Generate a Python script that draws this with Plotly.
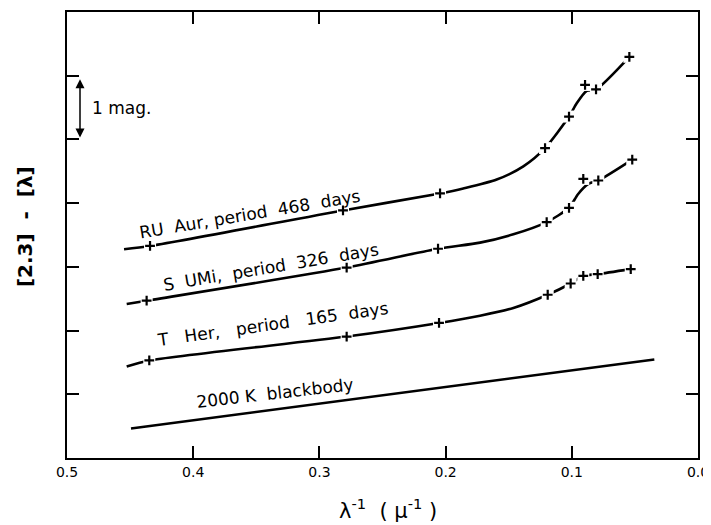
import plotly.graph_objects as go

# ---- data (x = 1/lambda in 1/micron, y = [2.3]-[lambda] with arbitrary offsets, mag) ----
ru_pts_x = [0.4342, 0.2813, 0.2044, 0.1212, 0.1022, 0.0895, 0.0808, 0.0544]
ru_pts_y = [3.328, 3.886, 4.152, 4.864, 5.359, 5.855, 5.786, 6.297]
ru_curve_x = [0.4548, 0.4342, 0.2813, 0.2044, 0.186, 0.1595, 0.1384, 0.1212, 0.1022, 0.0961, 0.0882, 0.0808, 0.0544]
ru_curve_y = [3.277, 3.328, 3.886, 4.152, 4.23, 4.37, 4.578, 4.864, 5.359, 5.567, 5.761, 5.786, 6.297]

sumi_pts_x = [0.4369, 0.2784, 0.2060, 0.1199, 0.1022, 0.0909, 0.0790, 0.0521]
sumi_pts_y = [2.469, 2.989, 3.284, 3.703, 3.927, 4.380, 4.355, 4.683]
sumi_curve_x = [0.4527, 0.4369, 0.2784, 0.2060, 0.1727, 0.1463, 0.1199, 0.1022, 0.0951, 0.0869, 0.0790, 0.0521]
sumi_curve_y = [2.417, 2.469, 2.989, 3.284, 3.380, 3.511, 3.703, 3.927, 4.14, 4.302, 4.355, 4.683]

ther_pts_x = [0.4348, 0.2784, 0.2052, 0.1191, 0.1009, 0.0909, 0.0795, 0.0533]
ther_pts_y = [1.531, 1.906, 2.120, 2.5625, 2.739, 2.859, 2.886, 2.964]
ther_curve_x = [0.4527, 0.4348, 0.2784, 0.2052, 0.1727, 0.1463, 0.1191, 0.1009, 0.0909, 0.0795, 0.0533]
ther_curve_y = [1.4375, 1.531, 1.906, 2.120, 2.234, 2.355, 2.5625, 2.739, 2.859, 2.886, 2.964]

bb_x = [0.4493, 0.0346]
bb_y = [0.464, 1.547]

x_tickvals = [0.5, 0.4, 0.3, 0.2, 0.1, 0.0]
x_ticktext = ["0.5", "0.4", "0.3", "0.2", "0.1", "0.0"]
y_tickvals = [1, 2, 3, 4, 5, 6]

labels = [
    ("RU  Aur, period  468  days", 0.3550, 3.83, -9.5),
    ("S  UMi,  period  326  days", 0.3384, 3.00, -9.5),
    ("T   Her,   period   165  days", 0.3368, 2.11, -8.0),
    ("2000 K  blackbody", 0.3352, 1.02, -6.5),
]

FONT = "DejaVu Sans"
fig = go.Figure()

curves = [(ru_curve_x, ru_curve_y), (sumi_curve_x, sumi_curve_y), (ther_curve_x, ther_curve_y)]
for cx, cy in curves:
    fig.add_trace(go.Scatter(x=cx, y=cy, mode="lines",
                             line=dict(color="black", width=2.6, shape="spline", smoothing=0.7),
                             hoverinfo="skip", showlegend=False))
fig.add_trace(go.Scatter(x=bb_x, y=bb_y, mode="lines",
                         line=dict(color="black", width=2.6), showlegend=False))

pts = [(ru_pts_x, ru_pts_y), (sumi_pts_x, sumi_pts_y), (ther_pts_x, ther_pts_y)]
for px, py in pts:
    fig.add_trace(go.Scatter(x=px, y=py, mode="markers",
                             marker=dict(symbol="square", size=12, color="white",
                                         line=dict(width=0)),
                             hoverinfo="skip", showlegend=False))
for px, py in pts:
    fig.add_trace(go.Scatter(x=px, y=py, mode="markers",
                             marker=dict(symbol="cross-thin", size=7,
                                         line=dict(width=2.2, color="black")),
                             showlegend=False))

annotations = []
for text, x, y, ang in labels:
    annotations.append(dict(x=x, y=y, xref="x", yref="y", text=text, showarrow=False,
                            textangle=ang, font=dict(family=FONT, size=17, color="black")))

# 1 mag scale bar
annotations.append(dict(x=0.4897, y=5.03, ax=0.4897, ay=5.97, xref="x", yref="y",
                        axref="x", ayref="y", text="", showarrow=True,
                        arrowside="end+start", arrowhead=2, arrowsize=1.2,
                        arrowwidth=1.5, arrowcolor="black"))
annotations.append(dict(x=0.4815, y=5.5, xref="x", yref="y", text="1 mag.",
                        showarrow=False, xanchor="left",
                        font=dict(family=FONT, size=17, color="black")))

# axis titles
annotations.append(dict(xref="paper", yref="paper", x=-0.0666, y=0.52,
                        xanchor="center", yanchor="middle",
                        text="<b>[2.3]  -  [λ]</b>", textangle=-90, showarrow=False,
                        font=dict(family=FONT, size=20, color="black")))
annotations.append(dict(xref="paper", yref="paper", x=0.5095, y=-0.114,
                        xanchor="center", yanchor="middle",
                        text="λ<sup>-1</sup>  ( μ<sup>-1</sup> )", showarrow=False,
                        font=dict(family=FONT, size=21, color="black")))

fig.update_layout(
    width=711, height=517,
    margin=dict(l=59, r=21, t=2, b=67),
    plot_bgcolor="white", paper_bgcolor="white",
    annotations=annotations,
    showlegend=False,
)
fig.update_xaxes(range=[0.5, 0.0], tickvals=x_tickvals, ticktext=x_ticktext,
                 ticks="inside", ticklen=12, tickwidth=2, tickcolor="black",
                 showline=True, linewidth=2, linecolor="black", mirror="ticks",
                 showgrid=False, zeroline=False, ticklabeloverflow="allow",
                 tickfont=dict(family=FONT, size=14, color="black"))
fig.update_yaxes(range=[0, 7], tickvals=y_tickvals, showticklabels=False,
                 ticks="inside", ticklen=12, tickwidth=2, tickcolor="black",
                 showline=True, linewidth=2, linecolor="black", mirror="ticks",
                 showgrid=False, zeroline=False)

fig.write_html("out.html")
